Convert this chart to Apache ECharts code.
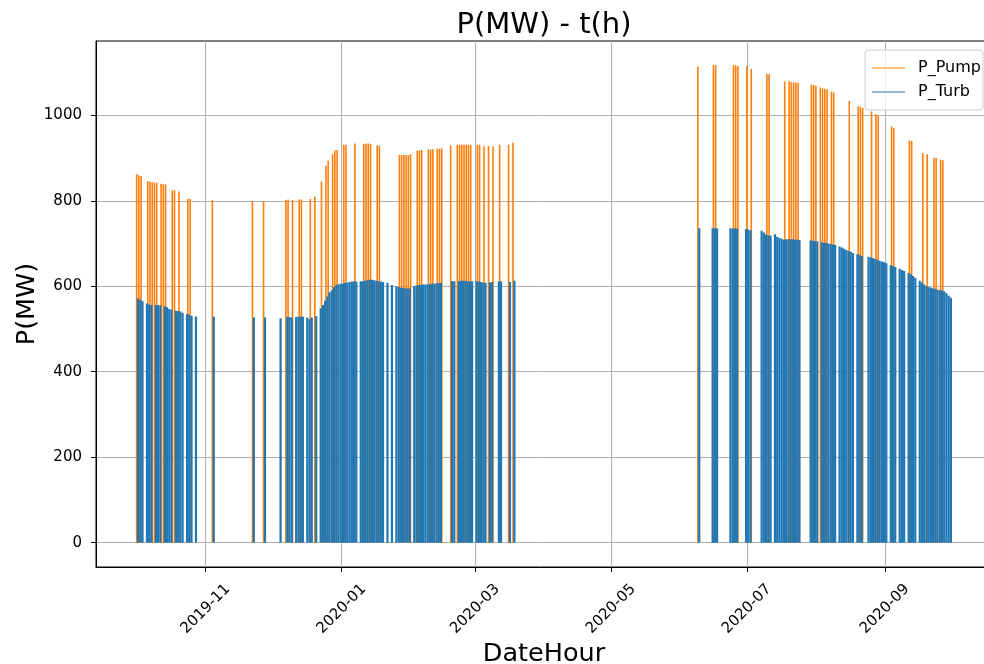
<!DOCTYPE html>
<html>
<head>
<meta charset="utf-8">
<script src="https://cdn.jsdelivr.net/npm/echarts@6/dist/echarts.min.js"></script>
<style>
html,body{margin:0;padding:0;background:#fff;}
#chart{width:984px;height:664px;}
</style>
</head>
<body>
<div id="chart"></div>
<script>
// ---------------- DATA ----------------
const seriesNames = ['P_Pump', 'P_Turb'];

const pumpDates = [
 '2019-10-01','2019-10-02','2019-10-03','2019-10-06','2019-10-07','2019-10-08','2019-10-09','2019-10-10',
 '2019-10-12','2019-10-13','2019-10-14','2019-10-17','2019-10-18','2019-10-20','2019-10-24','2019-10-25',
 '2019-11-04','2019-11-22','2019-11-27',
 '2019-12-07','2019-12-08','2019-12-10','2019-12-13','2019-12-14','2019-12-18','2019-12-20','2019-12-23',
 '2019-12-25','2019-12-26','2019-12-28','2019-12-29','2019-12-30',
 '2020-01-02','2020-01-03','2020-01-07','2020-01-11','2020-01-12','2020-01-13','2020-01-14','2020-01-17',
 '2020-01-18','2020-01-27','2020-01-28','2020-01-29','2020-01-30','2020-01-31',
 '2020-02-01','2020-02-04','2020-02-05','2020-02-06','2020-02-09','2020-02-10','2020-02-11','2020-02-13',
 '2020-02-14','2020-02-15','2020-02-19','2020-02-22','2020-02-23','2020-02-24','2020-02-25','2020-02-26',
 '2020-02-27','2020-02-28',
 '2020-03-02','2020-03-03','2020-03-05','2020-03-07','2020-03-09','2020-03-12','2020-03-16','2020-03-18',
 '2020-06-09','2020-06-16','2020-06-17','2020-06-25','2020-06-26','2020-06-27',
 '2020-07-01','2020-07-03','2020-07-10','2020-07-11','2020-07-18','2020-07-20','2020-07-21','2020-07-22',
 '2020-07-23','2020-07-24','2020-07-30','2020-07-31',
 '2020-08-01','2020-08-03','2020-08-04','2020-08-05','2020-08-06','2020-08-08','2020-08-09','2020-08-16',
 '2020-08-20','2020-08-21','2020-08-22','2020-08-26','2020-08-28','2020-08-29',
 '2020-09-04','2020-09-05','2020-09-12','2020-09-13','2020-09-18','2020-09-20','2020-09-23','2020-09-24',
 '2020-09-26','2020-09-27'
];
const pumpMW = [
 862,860,858,846,845,843,843,842,
 840,839,838,825,825,822,805,804,
 802,799,799,
 802,803,802,803,803,804,810,845,
 882,894,909,918,919,
 931,931,934,933,934,934,933,930,
 928,908,907,907,907,907,
 909,918,918,919,920,920,921,922,
 922,923,930,931,931,931,931,931,
 931,931,
 931,931,927,928,927,931,931,936,
 1114,1118,1117,1117,1117,1115,
 1115,1109,1097,1096,1080,1080,1078,1077,
 1076,1076,1072,1071,
 1069,1065,1063,1062,1061,1056,1054,1034,
 1021,1020,1017,1009,1003,999,
 974,970,942,940,912,909,901,900,
 896,895
];

const turbDates = [
 '2019-10-01','2019-10-02','2019-10-03','2019-10-05','2019-10-06','2019-10-07','2019-10-09','2019-10-10',
 '2019-10-11','2019-10-13','2019-10-14','2019-10-15','2019-10-16','2019-10-18','2019-10-19','2019-10-20',
 '2019-10-21','2019-10-23','2019-10-24','2019-10-25','2019-10-27',
 '2019-11-04','2019-11-22','2019-11-27',
 '2019-12-04','2019-12-07','2019-12-08','2019-12-09','2019-12-11','2019-12-12','2019-12-13','2019-12-14',
 '2019-12-16','2019-12-17','2019-12-18','2019-12-20','2019-12-22','2019-12-23','2019-12-24','2019-12-25',
 '2019-12-26','2019-12-27','2019-12-28','2019-12-29','2019-12-30','2019-12-31',
 '2020-01-01','2020-01-02','2020-01-03','2020-01-04','2020-01-05','2020-01-06','2020-01-07','2020-01-09',
 '2020-01-10','2020-01-11','2020-01-12','2020-01-13','2020-01-14','2020-01-15','2020-01-16','2020-01-17',
 '2020-01-18','2020-01-19','2020-01-21','2020-01-23','2020-01-25','2020-01-26','2020-01-27','2020-01-28',
 '2020-01-29','2020-01-30','2020-01-31',
 '2020-02-02','2020-02-03','2020-02-04','2020-02-05','2020-02-06','2020-02-07','2020-02-08','2020-02-09',
 '2020-02-10','2020-02-11','2020-02-12','2020-02-13','2020-02-14','2020-02-19','2020-02-20','2020-02-22',
 '2020-02-23','2020-02-24','2020-02-25','2020-02-26','2020-02-27','2020-02-28',
 '2020-03-01','2020-03-02','2020-03-03','2020-03-04','2020-03-05','2020-03-07','2020-03-08','2020-03-11',
 '2020-03-12','2020-03-16','2020-03-18',
 '2020-06-09','2020-06-15','2020-06-16','2020-06-17','2020-06-23','2020-06-24','2020-06-25','2020-06-26',
 '2020-06-30','2020-07-01','2020-07-02',
 '2020-07-07','2020-07-08','2020-07-09','2020-07-10','2020-07-11','2020-07-13','2020-07-14','2020-07-15',
 '2020-07-16','2020-07-17','2020-07-18','2020-07-19','2020-07-20','2020-07-21','2020-07-22','2020-07-23',
 '2020-07-24','2020-07-29','2020-07-30','2020-07-31',
 '2020-08-01','2020-08-03','2020-08-04','2020-08-05','2020-08-06','2020-08-07','2020-08-08','2020-08-09',
 '2020-08-11','2020-08-12','2020-08-13','2020-08-14','2020-08-15','2020-08-16','2020-08-17','2020-08-19',
 '2020-08-20','2020-08-21','2020-08-24','2020-08-25','2020-08-26','2020-08-27','2020-08-28','2020-08-29',
 '2020-08-30','2020-08-31',
 '2020-09-01','2020-09-03','2020-09-04','2020-09-05','2020-09-07','2020-09-08','2020-09-09','2020-09-11',
 '2020-09-12','2020-09-13','2020-09-14','2020-09-16','2020-09-17','2020-09-18','2020-09-19','2020-09-20',
 '2020-09-21','2020-09-22','2020-09-23','2020-09-24','2020-09-25','2020-09-26','2020-09-27','2020-09-28',
 '2020-09-29','2020-09-30'
];
const turbMW = [
 572,568,565,560,557,556,556,556,
 555,553,551,547,545,543,542,541,
 538,535,533,531,529,
 529,527,527,
 525,528,528,527,528,529,529,529,
 527,523,527,530,548,556,566,576,
 586,591,598,603,605,606,
 606,608,609,610,611,611,611,612,
 612,613,614,615,615,614,613,612,
 611,610,608,603,600,598,597,596,
 595,595,595,
 600,602,603,603,604,604,605,605,
 606,606,607,607,608,612,612,612,
 613,613,613,612,612,612,
 612,611,610,609,608,609,610,611,
 611,610,613,
 736,736,736,735,736,735,736,735,
 734,733,731,
 730,726,721,719,719,722,716,713,
 711,709,710,710,710,710,709,709,
 708,707,707,706,
 705,703,702,701,700,699,698,697,
 693,691,688,685,683,681,678,675,
 673,671,669,668,666,664,662,660,
 658,656,
 654,650,647,645,641,638,636,631,
 628,624,620,613,609,604,600,598,
 597,595,594,592,591,590,588,584,
 578,573
];

const yTickValues = [0, 200, 400, 600, 800, 1000];
const xTickLabels = ['2019-11', '2020-01', '2020-03', '2020-05', '2020-07', '2020-09'];

// ---------------- BUILD ----------------
const DAY = 86400000;
const PUMP_HOUR = 3, TURB_HOUR = 15;
function ts(dateStr, hour) {
  const p = dateStr.split('-').map(Number);
  return Date.UTC(p[0], p[1] - 1, p[2] || 1, hour || 0);
}
const pumpData = pumpDates.map((d, i) => [ts(d, PUMP_HOUR), pumpMW[i]]);
const turbData = turbDates.map((d, i) => [ts(d, TURB_HOUR), turbMW[i]]);
const xTickValues = xTickLabels.map(s => ts(s + '-01', 0));

const ref = Date.UTC(2019, 10, 1);
const xMin = ref - 49.26 * DAY;
const xMax = ref + 353.07 * DAY;

const FONT = 'DejaVu Sans';
const chart = echarts.init(document.getElementById('chart'), null, {renderer: 'canvas'});
chart.setOption({
  animation: false,
  backgroundColor: '#ffffff',
  title: {
    text: 'P(MW) - t(h)',
    left: 539, top: 6, textAlign: 'center',
    textStyle: {fontFamily: FONT, fontSize: 29, fontWeight: 'normal', color: '#000'}
  },
  legend: {
    orient: 'vertical',
    right: 1, top: 50,
    padding: [9, 2, 9, 7],
    itemGap: 6,
    itemWidth: 33, itemHeight: 2,
    backgroundColor: 'rgba(255,255,255,0.8)',
    borderColor: '#cccccc', borderWidth: 1, borderRadius: 3,
    textStyle: {fontFamily: FONT, fontSize: 16, color: '#000', padding: [0, 0, 0, 8], lineHeight: 18},
    data: [
      {name: 'P_Pump', icon: 'rect', itemStyle: {color: '#ffbf87'}},
      {name: 'P_Turb', icon: 'rect', itemStyle: {color: '#8fbbdb'}}
    ]
  },
  grid: {
    left: 96, top: 41, width: 896, height: 526,
    containLabel: false, outerBoundsMode: 'none',
    show: true, borderColor: '#000', borderWidth: 1, backgroundColor: 'transparent'
  },
  xAxis: {
    type: 'value', min: xMin, max: xMax, scale: true,
    name: 'DateHour', nameLocation: 'middle', nameGap: 74, nameMoveOverlap: false,
    nameTextStyle: {fontFamily: FONT, fontSize: 25.5, color: '#000'},
    axisLine: {show: true, onZero: false, lineStyle: {color: '#000', width: 1}},
    axisTick: {show: true, length: 5, lineStyle: {color: '#000'}, customValues: xTickValues},
    axisLabel: {
      customValues: xTickValues,
      rotate: 45, align: 'center', verticalAlign: 'middle', margin: 42,
      fontFamily: FONT, fontSize: 15, color: '#000',
      formatter: function (v) {
        const i = xTickValues.indexOf(v);
        return i >= 0 ? xTickLabels[i] : '';
      }
    },
    splitLine: {show: true, lineStyle: {color: '#b0b0b0', width: 1}}
  },
  yAxis: {
    type: 'value', min: -57, max: 1174,
    name: 'P(MW)', nameLocation: 'middle', nameGap: 56, nameMoveOverlap: false,
    nameTextStyle: {fontFamily: FONT, fontSize: 25.5, color: '#000'},
    axisLine: {show: true, onZero: false, lineStyle: {color: '#000', width: 1}},
    axisTick: {show: true, length: 5, lineStyle: {color: '#000'}, customValues: yTickValues},
    axisLabel: {
      customValues: yTickValues, margin: 14, fontFamily: FONT, fontSize: 15, color: '#000',
      formatter: function (v) { return String(v); }
    },
    splitLine: {show: true, lineStyle: {color: '#b0b0b0', width: 1}}
  },
  series: [
    {
      name: 'P_Pump', type: 'bar', data: pumpData,
      barWidth: 1.6, barGap: '-100%',
      itemStyle: {color: '#ff7f0e'}
    },
    {
      name: 'P_Turb', type: 'bar', data: turbData,
      barWidth: 2.2, barGap: '-100%',
      itemStyle: {color: '#1f77b4'}
    }
  ]
});
</script>
</body>
</html>
